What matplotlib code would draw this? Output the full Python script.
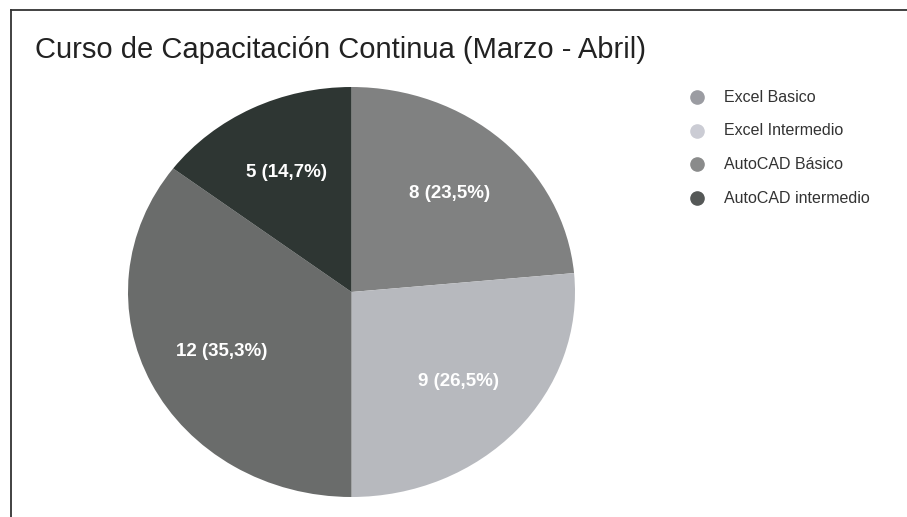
import matplotlib.pyplot as plt
from matplotlib.lines import Line2D

plt.rcParams['font.family'] = ['Liberation Sans', 'DejaVu Sans']

categorias = ['Excel Basico', 'Excel Intermedio', 'AutoCAD Básico', 'AutoCAD intermedio']
alumnos = [8, 9, 12, 5]
colores = ['#808181', '#b7b9be', '#6a6c6b', '#2e3633']
colores_leyenda = ['#9b9ca2', '#cbccd4', '#8a8b8b', '#555857']
titulo = 'Curso de Capacitación Continua (Marzo - Abril)'

total = sum(alumnos)

def etiqueta(pct):
    n = int(round(pct * total / 100))
    return '{} ({})'.format(n, ('%.1f%%' % pct).replace('.', ','))

fig = plt.figure(figsize=(9.07, 5.17), dpi=100)
W, H = 907, 517

# pie area (pixels in the reference): x 128-575, y 87-497
ax = fig.add_axes([128 / W, 1 - 497 / H, 447 / W, 410 / H])
wedges, texts, autotexts = ax.pie(alumnos, colors=colores, startangle=90, counterclock=False,
                                  autopct=etiqueta, pctdistance=0.65,
                                  wedgeprops=dict(linewidth=0))
for t in autotexts:
    t.set_color('white')
    t.set_fontweight('bold')
    t.set_fontsize(13.5)
ax.set_aspect('auto')
ax.set_xlim(-1, 1)
ax.set_ylim(-1, 1)
ax.axis('off')

fig.text(35 / W, 1 - 50 / H, titulo, fontsize=21, color='#222222', va='center', ha='left')

# legend
for i, (c, nombre) in enumerate(zip(colores_leyenda, categorias)):
    y = 1 - (97 + i * 33.7) / H
    fig.add_artist(Line2D([697 / W], [y], marker='o', markersize=9.5, color=c, linestyle='none'))
    fig.text(724 / W, y, nombre, fontsize=11.5, color='#333333', va='center', ha='left')

# frame of the scanned box
fig.add_artist(Line2D([11 / W, 1], [1 - 10 / H, 1 - 10 / H], color='#333333', linewidth=1.3))
fig.add_artist(Line2D([11 / W, 11 / W], [0, 1 - 10 / H], color='#333333', linewidth=1.3))

fig.savefig('out.png', dpi=100)
